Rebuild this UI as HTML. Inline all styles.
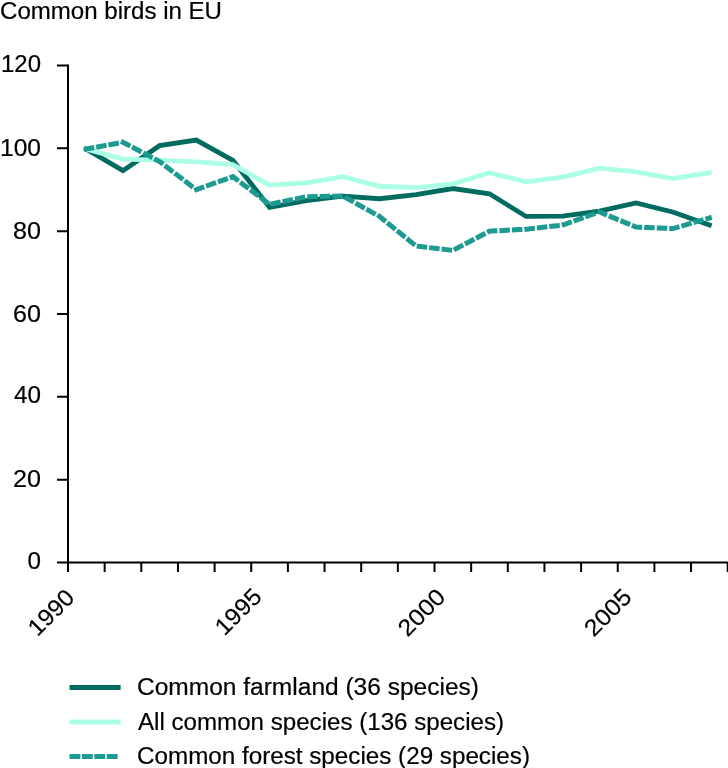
<!DOCTYPE html>
<html><head><meta charset="utf-8"><style>
html,body{margin:0;padding:0;background:#fff;width:728px;height:768px;overflow:hidden}
svg{display:block;will-change:transform}
text{font-family:"Liberation Sans", sans-serif;font-size:23.5px;fill:#000;stroke:#000;stroke-width:0.2}
</style></head><body>
<svg width="728" height="768" viewBox="0 0 728 768">
<text x="0.00" y="19.00" textLength="222.00" lengthAdjust="spacingAndGlyphs">Common birds in EU</text>
<path d="M68 64.5V572M67 562.5H728" stroke="#000" stroke-width="2" fill="none"/>
<path d="M57 562.50H68M57 479.67H68M57 396.83H68M57 314.00H68M57 231.17H68M57 148.33H68M57 65.50H68M68.00 562.5V572M104.65 562.5V572M141.30 562.5V572M177.95 562.5V572M214.60 562.5V572M251.25 562.5V572M287.90 562.5V572M324.55 562.5V572M361.20 562.5V572M397.85 562.5V572M434.50 562.5V572M471.15 562.5V572M507.80 562.5V572M544.45 562.5V572M581.10 562.5V572M617.75 562.5V572M654.40 562.5V572M691.05 562.5V572M727.70 562.5V572" stroke="#000" stroke-width="2" fill="none"/>
<text x="27.50" y="569.00" style="font-size:23px" textLength="13.50" lengthAdjust="spacingAndGlyphs">0</text>
<text x="13.00" y="487.17" style="font-size:23px" textLength="28.00" lengthAdjust="spacingAndGlyphs">20</text>
<text x="14.00" y="403.33" style="font-size:23px" textLength="27.00" lengthAdjust="spacingAndGlyphs">40</text>
<text x="13.00" y="321.50" style="font-size:23px" textLength="28.00" lengthAdjust="spacingAndGlyphs">60</text>
<text x="13.00" y="238.67" style="font-size:23px" textLength="28.00" lengthAdjust="spacingAndGlyphs">80</text>
<text x="0.00" y="155.83" style="font-size:23px" textLength="41.00" lengthAdjust="spacingAndGlyphs">100</text>
<text x="1.00" y="72.00" style="font-size:23px" textLength="40.00" lengthAdjust="spacingAndGlyphs">120</text>
<text transform="translate(75.80,599.00) rotate(-45)" text-anchor="end" textLength="54.11" lengthAdjust="spacingAndGlyphs">1990</text>
<text transform="translate(263.05,598.00) rotate(-45)" text-anchor="end" textLength="54.57" lengthAdjust="spacingAndGlyphs">1995</text>
<text transform="translate(446.80,598.50) rotate(-45)" text-anchor="end" textLength="55.45" lengthAdjust="spacingAndGlyphs">2000</text>
<text transform="translate(633.05,598.50) rotate(-45)" text-anchor="end" textLength="55.45" lengthAdjust="spacingAndGlyphs">2005</text>
<polyline points="86.30,149.05 122.95,170.65 159.60,145.65 196.25,140.05 232.90,160.35 269.55,207.35 306.20,200.55 342.85,196.05 379.50,198.75 416.15,194.55 452.80,188.55 489.45,193.75 526.10,216.45 562.75,216.05 599.40,211.15 636.05,202.85 672.70,211.95 709.35,225.05" fill="none" stroke="#006b5f" stroke-width="4.8" stroke-linejoin="miter" stroke-linecap="square"/>
<polyline points="86.30,149.05 122.95,159.15 159.60,160.05 196.25,161.85 232.90,164.55 269.55,185.15 306.20,182.75 342.85,176.65 379.50,186.25 416.15,187.55 452.80,184.00 489.45,172.65 526.10,181.75 562.75,177.15 599.40,168.15 636.05,171.85 672.70,178.65 709.35,172.65" fill="none" stroke="#acffe7" stroke-width="4.8" stroke-linejoin="miter" stroke-linecap="square"/>
<polyline points="86.30,149.05 122.95,142.25 159.60,161.55 196.25,189.65 232.90,176.65 269.55,204.35 306.20,196.75 342.85,196.05 379.50,216.45 416.15,246.05 452.80,250.45 489.45,231.15 526.10,229.25 562.75,225.05 599.40,211.95 636.05,227.05 672.70,228.55 709.35,217.95" fill="none" stroke="#1e9b91" stroke-width="5" stroke-dasharray="5.55 6.98" stroke-dashoffset="0" stroke-linejoin="miter" stroke-linecap="square"/>
<path d="M69.5 687.5H120.6" stroke="#006b5f" stroke-width="4.8"/>
<text x="137.00" y="695.00" textLength="342.00" lengthAdjust="spacingAndGlyphs">Common farmland (36 species)</text>
<path d="M69.5 722H120.6" stroke="#acffe7" stroke-width="4.8"/>
<text x="138.00" y="729.50" textLength="366.00" lengthAdjust="spacingAndGlyphs">All common species (136 species)</text>
<path d="M69.5 756.5H117.6" stroke="#1e9b91" stroke-width="5" stroke-dasharray="10.9 1.5"/>
<text x="137.00" y="763.70" textLength="393.00" lengthAdjust="spacingAndGlyphs">Common forest species (29 species)</text>
</svg>
</body></html>
